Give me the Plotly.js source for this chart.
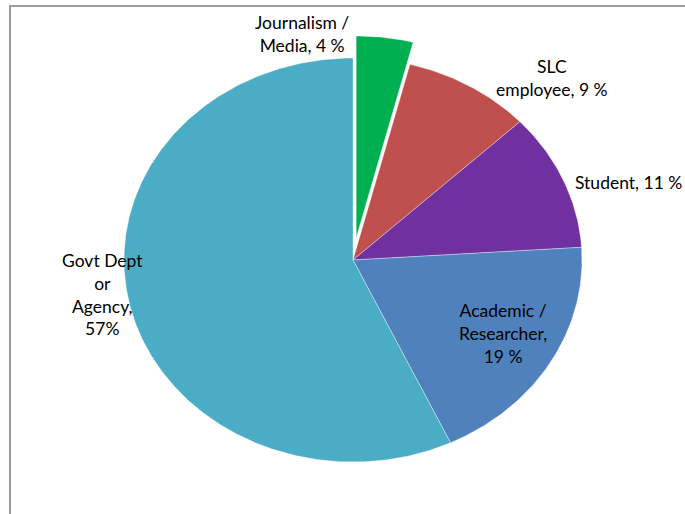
<!DOCTYPE html>
<html>
<head>
<meta charset="utf-8">
<script src="https://cdn.plot.ly/plotly-3.0.1.min.js"></script>
<style>html,body{margin:0;padding:0;background:#fff;}#chart{width:685px;height:514px;}</style>
</head>
<body>
<div id="chart"></div>
<script>
// ---- data ----
const categories = ["Journalism / Media", "SLC employee", "Student", "Academic / Researcher", "Govt Dept or Agency"];
const shares = [4, 9, 11, 19, 57];
const labelTexts = ["Journalism /<br>Media, 4 %", "SLC<br>employee, 9 %", "Student, 11 %", "Academic /<br>Researcher,<br>19 %", "Govt Dept<br>or<br>Agency,<br>57%"];

// ---- styles / layout ----
const colors = ["#00B050", "#C0504D", "#7030A0", "#4F81BD", "#4BACC6"];
const pulledIndex = 0;
const pullFrac = 0.11;
const cx = 353, cy = 260, rx = 229, ry = 202;
const labelPos = [[302, 34], [552, 78], [628, 182], [503, 333], [102, 294]];

const total = shares.reduce((a, b) => a + b, 0);
const traces = [];
let start = 0;
shares.forEach((v, i) => {
  const a0 = start / total * 2 * Math.PI;
  const a1 = (start + v) / total * 2 * Math.PI;
  start += v;
  const mid = (a0 + a1) / 2;
  let ox = cx, oy = cy;
  if (i === pulledIndex) {
    ox += rx * pullFrac * Math.sin(mid);
    oy -= ry * pullFrac * Math.cos(mid);
  }
  const xs = [ox], ys = [oy];
  const n = Math.max(8, Math.ceil((a1 - a0) / 0.01));
  for (let k = 0; k <= n; k++) {
    const t = a0 + (a1 - a0) * k / n;
    xs.push(ox + rx * Math.sin(t));
    ys.push(oy - ry * Math.cos(t));
  }
  xs.push(ox); ys.push(oy);
  traces.push({
    type: "scatter", mode: "lines", x: xs, y: ys,
    fill: "toself", fillcolor: colors[i],
    line: {width: 0.6, color: "rgba(255,255,255,0.6)"},
    name: categories[i], hoverinfo: "name", showlegend: false
  });
});

const annotations = labelTexts.map((t, i) => ({
  x: labelPos[i][0], y: labelPos[i][1], xref: "x", yref: "y",
  text: t, showarrow: false, align: "center",
  font: {family: "Lato, 'Open Sans', sans-serif", size: 17.5, color: "#000"}
}));

const layout = {
  width: 685, height: 514,
  margin: {l: 0, r: 0, t: 0, b: 0},
  paper_bgcolor: "#fff", plot_bgcolor: "#fff",
  xaxis: {range: [0, 685], visible: false, fixedrange: true},
  yaxis: {range: [514, 0], visible: false, fixedrange: true},
  showlegend: false,
  annotations: annotations,
  shapes: [{
    type: "rect", xref: "x", yref: "y",
    x0: 10, y0: 6, x1: 720, y1: 560,
    line: {color: "#9c9c9c", width: 2}, fillcolor: "rgba(0,0,0,0)", layer: "below"
  }]
};

Plotly.newPlot("chart", traces, layout, {displayModeBar: false, staticPlot: true});
</script>
</body>
</html>
